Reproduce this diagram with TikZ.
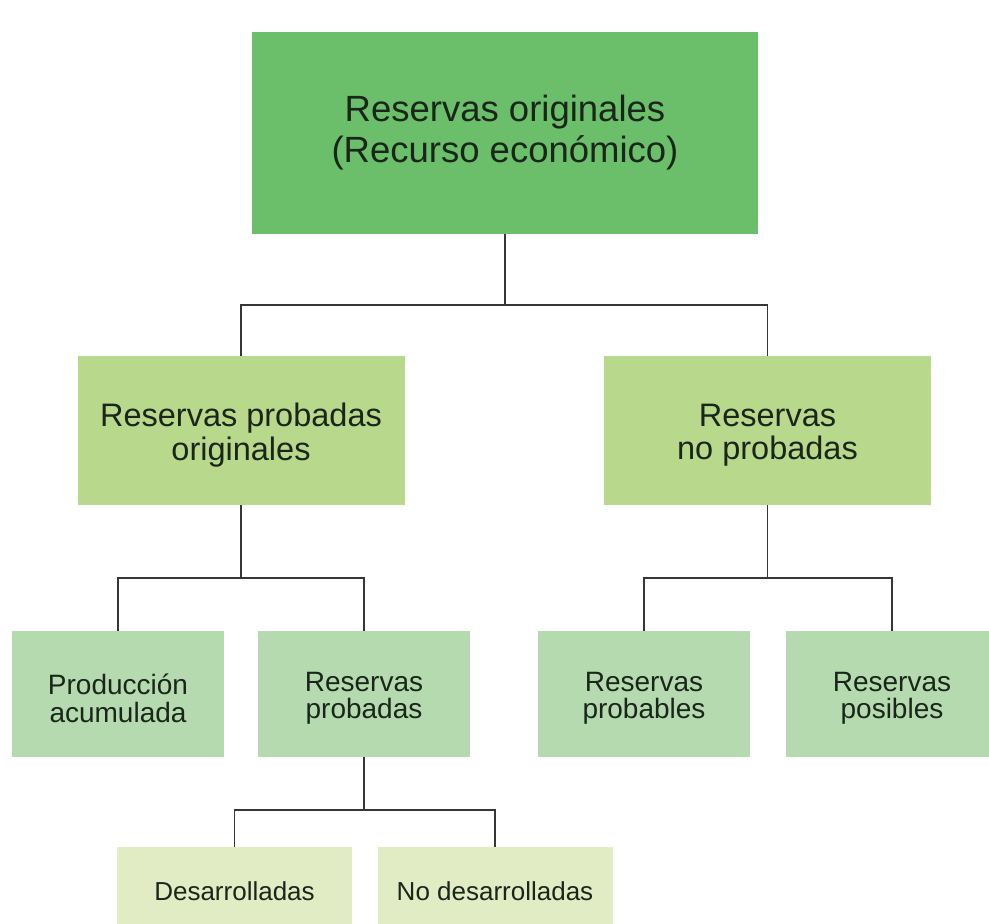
\documentclass[tikz,border=0pt]{standalone}
\usepackage{fontspec}
\setmainfont{Liberation Sans}
\definecolor{cTop}{HTML}{6BBF6B}
\definecolor{cTwo}{HTML}{B8D98B}
\definecolor{cThree}{HTML}{B5DAAF}
\definecolor{cFour}{HTML}{E1EBC4}
\definecolor{cText}{HTML}{1A261A}
\definecolor{cLine}{HTML}{363636}
\tikzset{
  boxbase/.style={rectangle, inner sep=0pt, align=center, text=cText},
  topbox/.style={boxbase, fill=cTop, minimum width=506pt, minimum height=202pt,
    font=\fontsize{36.5}{41}\selectfont},
  twobox/.style={boxbase, fill=cTwo, minimum width=327pt, minimum height=149pt},
  threebox/.style={boxbase, fill=cThree, minimum width=212pt, minimum height=126pt},
  fourbox/.style={boxbase, fill=cFour, minimum width=235pt, minimum height=88pt,
    font=\fontsize{26}{28}\selectfont},
  twotext/.style={boxbase, font=\fontsize{32.5}{33.5}\selectfont},
  threetext/.style={boxbase, font=\fontsize{28}{27.5}\selectfont},
  link/.style={draw=cLine, line width=1.8pt}
}
\begin{document}
\begin{tikzpicture}[x=1pt, y=-1pt]
\useasboundingbox (0,0) rectangle (989,924);
\clip (0,0) rectangle (989,924);
\fill[white] (0,0) rectangle (989,924);
% boxes
\node[topbox] (top) at (505,133) {Reservas originales\\(Recurso económico)};
\node[twobox] (pro) at (241,430.5) {};
\node[twobox] (nop) at (767.5,430.5) {};
\node[threebox] (acu) at (118,694) {};
\node[threebox] (rpr) at (364,694) {};
\node[threebox] (pbl) at (644,694) {};
\node[threebox] (pos) at (892,694) {};
\node[fourbox] (des) at (234.5,891) {Desarrolladas};
\node[fourbox] (ndes) at (495,891) {No desarrolladas};
% texts
\node[twotext] (proT) at ([yshift=-4.5pt]pro.center) {Reservas probadas\\originales};
\node[twotext] (nopT) at ([yshift=-4.5pt]nop.center) {Reservas\\no probadas};
\node[threetext] (acuT) at ([yshift=-4.5pt]acu.center) {Producción\\acumulada};
\node[threetext] (rprT) at ([yshift=-4.5pt]rpr.center) {Reservas\\probadas};
\node[threetext] (pblT) at ([yshift=-4.5pt]pbl.center) {Reservas\\probables};
\node[threetext] (posT) at ([yshift=-4.5pt]pos.center) {Reservas\\posibles};
% bus coordinates
\coordinate (b1) at (505,305);
\coordinate (b2) at (241,578);
\coordinate (b3) at (767.5,578);
\coordinate (b4) at (364,810);
% connectors
\draw[link] (top.south) -- (b1);
\draw[link] (pro.north) |- (b1) -| (nop.north);
\draw[link] (pro.south) -- (b2);
\draw[link] (acu.north) |- (b2) -| (rpr.north);
\draw[link] (nop.south) -- (b3);
\draw[link] (pbl.north) |- (b3) -| (pos.north);
\draw[link] (rpr.south) -- (b4);
\draw[link] (des.north) |- (b4) -| (ndes.north);
\end{tikzpicture}
\end{document}
